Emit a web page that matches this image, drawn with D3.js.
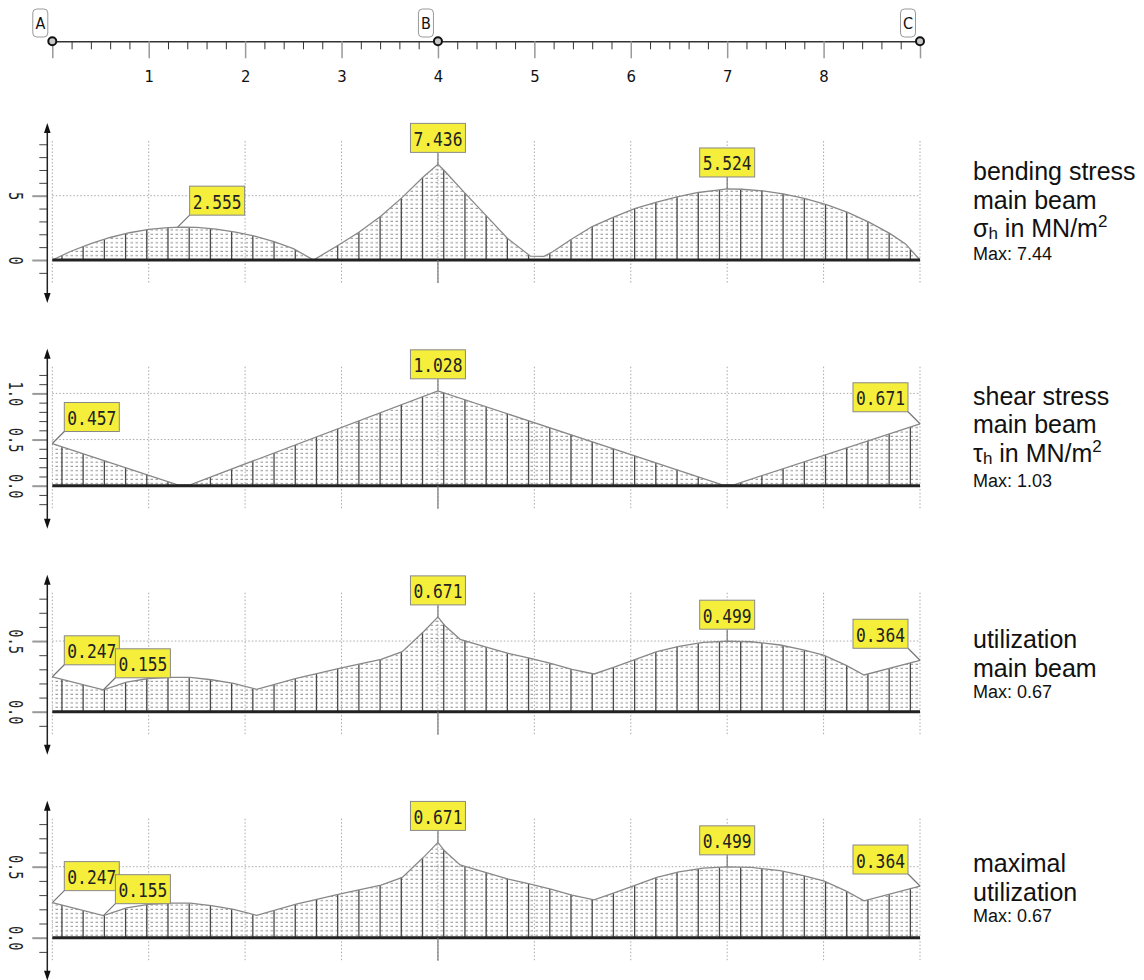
<!DOCTYPE html>
<html><head><meta charset="utf-8">
<script src="https://cdn.jsdelivr.net/npm/d3@7"></script>
<style>body{margin:0;background:#fff}svg{display:block}</style>
</head><body><svg id="c" width="1144" height="980"></svg>
<script>
// ---------------- data ----------------
const supportNames = ["A", "B", "C"];
const supportPos = [0, 4, 9];
const spanTickLabels = [1, 2, 3, 4, 5, 6, 7, 8];

const bendX = [0, 0.2, 0.4, 0.6, 0.8, 1.0, 1.2, 1.35, 1.5, 1.7, 1.9, 2.1, 2.3, 2.5, 2.71, 2.97, 3.18, 3.41, 3.63, 3.85, 4.0, 4.06, 4.28, 4.51, 4.72, 4.96, 5.1, 5.19, 5.38, 5.6, 5.81, 6.04, 6.27, 6.48, 6.7, 6.92, 7.0, 7.15, 7.37, 7.58, 7.8, 8.03, 8.25, 8.47, 8.69, 8.85, 9.0];
const bendV = [0, 0.7, 1.28, 1.75, 2.12, 2.38, 2.52, 2.555, 2.53, 2.4, 2.17, 1.85, 1.42, 0.88, 0, 1.17, 2.16, 3.42, 4.87, 6.47, 7.436, 7.0, 5.2, 3.37, 1.69, 0.3, 0.28, 0.64, 1.6, 2.6, 3.3, 4.0, 4.5, 4.9, 5.25, 5.45, 5.524, 5.5, 5.38, 5.15, 4.8, 4.3, 3.7, 2.95, 2.05, 1.25, 0];

const shearX = [0, 1.3, 1.43, 4.0, 6.95, 7.07, 9.0];
const shearV = [0.457, 0.01, 0.01, 1.028, 0.01, 0.01, 0.671];

const utilX = [0, 0.53, 0.77, 1.0, 1.22, 1.43, 1.65, 1.88, 2.12, 2.53, 3.0, 3.41, 3.63, 3.85, 4.0, 4.07, 4.23, 4.51, 4.73, 4.96, 5.17, 5.39, 5.62, 5.82, 6.05, 6.27, 6.5, 6.75, 7.0, 7.25, 7.55, 7.79, 8.0, 8.23, 8.42, 9.0];
const utilV = [0.247, 0.155, 0.21, 0.235, 0.243, 0.243, 0.226, 0.2, 0.158, 0.236, 0.31, 0.37, 0.425, 0.566, 0.671, 0.61, 0.512, 0.456, 0.413, 0.378, 0.342, 0.3, 0.267, 0.314, 0.371, 0.425, 0.463, 0.49, 0.499, 0.495, 0.472, 0.437, 0.40, 0.33, 0.26, 0.364];

const maxUtilX = [0, 0.53, 0.77, 1.0, 1.22, 1.43, 1.65, 1.88, 2.12, 2.53, 3.0, 3.41, 3.63, 3.85, 4.0, 4.07, 4.23, 4.51, 4.73, 4.96, 5.17, 5.39, 5.62, 5.82, 6.05, 6.27, 6.5, 6.75, 7.0, 7.25, 7.55, 7.79, 8.0, 8.23, 8.42, 9.0];
const maxUtilV = [0.247, 0.155, 0.21, 0.235, 0.243, 0.243, 0.226, 0.2, 0.158, 0.236, 0.31, 0.37, 0.425, 0.566, 0.671, 0.61, 0.512, 0.456, 0.413, 0.378, 0.342, 0.3, 0.267, 0.314, 0.371, 0.425, 0.463, 0.49, 0.499, 0.495, 0.472, 0.437, 0.40, 0.33, 0.26, 0.364];

const bendTicks = [0, 5];
const shearTicks = [0, 0.5, 1.0];
const utilTicks = [0, 0.5];
const maxUtilTicks = [0, 0.5];

const bendLabelX = [1.3, 4, 7];
const bendLabelV = [2.555, 7.436, 5.524];
const shearLabelX = [0, 4, 9];
const shearLabelV = [0.457, 1.028, 0.671];
const utilLabelX = [0, 0.53, 4, 7, 9];
const utilLabelV = [0.247, 0.155, 0.671, 0.499, 0.364];
const maxUtilLabelX = [0, 0.53, 4, 7, 9];
const maxUtilLabelV = [0.247, 0.155, 0.671, 0.499, 0.364];

const bendTitle = ["bending stress", "main beam"];
const shearTitle = ["shear stress", "main beam"];
const utilTitle = ["utilization", "main beam"];
const maxUtilTitle = ["maximal", "utilization"];
const bendMax = "Max: 7.44";
const shearMax = "Max: 1.03";
const utilMax = "Max: 0.67";
const maxUtilMax = "Max: 0.67";

// ---------------- layout / style ----------------
const svg = d3.select("#c");
const x = d3.scaleLinear().domain([0, 9]).range([52.3, 920]);
const SANS = "'Liberation Sans', Arial, Helvetica, sans-serif";
const NARROW = "'Liberation Sans Narrow', 'DejaVu Sans Condensed', 'Liberation Sans', sans-serif";
const MONO = "'DejaVu Sans Mono', 'Liberation Mono', monospace";
const YELLOW = "#f5ef3c";

const defs = svg.append("defs");
const pat = defs.append("pattern").attr("id", "dots").attr("patternUnits", "userSpaceOnUse")
  .attr("width", 5).attr("height", 4.3);
pat.append("rect").attr("x", 0.5).attr("y", 1.5).attr("width", 2.5).attr("height", 1).attr("fill", "#8f8f8f");

// ---- top span axis ----
const topY = 41.3;
const gTop = svg.append("g").attr("transform", `translate(0,${topY})`);
const minorVals = d3.range(0, 9.001, 0.2).filter(v => Math.abs(v - Math.round(v)) > 1e-6);
const gMinor = gTop.append("g").call(d3.axisBottom(x).tickValues(minorVals).tickSize(8).tickSizeOuter(0).tickFormat(""));
gMinor.select(".domain").attr("stroke", "#333").attr("stroke-width", 1.5);
gMinor.selectAll(".tick line").attr("stroke", "#333").attr("stroke-width", 1);
const gMajor = gTop.append("g").call(d3.axisBottom(x).tickValues(d3.range(0, 10)).tickSize(17)
  .tickFormat(d => spanTickLabels.includes(d) ? String(d) : ""));
gMajor.select(".domain").remove();
gMajor.selectAll(".tick line").attr("stroke", "#999").attr("stroke-width", 1.5);
gMajor.selectAll(".tick text").attr("y", 28.5).attr("dy", "0.71em")
  .attr("font-family", NARROW).attr("font-size", 16.5).attr("fill", "#111");

supportPos.forEach((p, i) => {
  const cx = x(p);
  svg.append("rect").attr("x", cx - 19.5).attr("y", 9).attr("width", 15).attr("height", 28).attr("rx", 4)
    .attr("fill", "#fff").attr("stroke", "#999").attr("stroke-width", 1);
  svg.append("text").attr("x", cx - 12).attr("y", 29).attr("text-anchor", "middle")
    .attr("font-family", NARROW).attr("font-size", 16).attr("fill", "#111").text(supportNames[i]);
  svg.append("circle").attr("cx", cx).attr("cy", topY).attr("r", 4)
    .attr("fill", "#c8c8c8").attr("stroke", "#111").attr("stroke-width", 2);
});

// ---- panels ----
const panels = [
  {X: bendX, V: bendV, ticks: bendTicks, LX: bendLabelX, LV: bendLabelV, dirs: ["ur", "up", "up"],
   title: bendTitle, unit: ["σ", "h"], max: bendMax, fmt: d3.format("d"),
   zeroY: 260, ppu: 12.86, lo: -1, hi: 9, step: 1, base: [180, 208.5, 237, 260]},
  {X: shearX, V: shearV, ticks: shearTicks, LX: shearLabelX, LV: shearLabelV, dirs: ["ur", "up", "ul"],
   title: shearTitle, unit: ["τ", "h"], max: shearMax, fmt: d3.format(".1f"),
   zeroY: 485.7, ppu: 92.3, lo: -0.2, hi: 1.2, step: 0.1, base: [405, 433.3, 461.7, 486.7]},
  {X: utilX, V: utilV, ticks: utilTicks, LX: utilLabelX, LV: utilLabelV, dirs: ["ur", "ur", "up", "up", "ul"],
   title: utilTitle, unit: null, max: utilMax, fmt: d3.format(".1f"),
   zeroY: 711.7, ppu: 141.3, lo: -0.1, hi: 0.8, step: 0.1, base: [648.3, 676.7, 698.3]},
  {X: maxUtilX, V: maxUtilV, ticks: maxUtilTicks, LX: maxUtilLabelX, LV: maxUtilLabelV, dirs: ["ur", "ur", "up", "up", "ul"],
   title: maxUtilTitle, unit: null, max: maxUtilMax, fmt: d3.format(".1f"),
   zeroY: 937.7, ppu: 142, lo: -0.1, hi: 0.8, step: 0.1, base: [872, 900.5, 922]},
];

function interp(X, V, t) {
  const i = Math.max(1, Math.min(X.length - 1, d3.bisectLeft(X, t)));
  const f = (t - X[i - 1]) / (X[i] - X[i - 1]);
  return V[i - 1] + f * (V[i] - V[i - 1]);
}

const hatchX = d3.range(0.1, 8.95, 0.22);

panels.forEach(P => {
  const y = d3.scaleLinear().domain([0, 1]).range([P.zeroY, P.zeroY - P.ppu]);
  const g = svg.append("g");
  const gTopY = P.zeroY - 119, gBotY = P.zeroY + 23;

  // grid
  g.selectAll(null).data(d3.range(0, 10)).enter().append("line")
    .attr("x1", d => x(d)).attr("x2", d => x(d)).attr("y1", gTopY).attr("y2", gBotY)
    .attr("stroke", "#aaa").attr("stroke-width", 1).attr("stroke-dasharray", "1.5 2");
  g.selectAll(null).data(P.ticks.filter(t => t !== 0)).enter().append("line")
    .attr("x1", x(0)).attr("x2", x(9)).attr("y1", d => y(d)).attr("y2", d => y(d))
    .attr("stroke", "#aaa").attr("stroke-width", 1).attr("stroke-dasharray", "1.5 2");

  const pts = P.X.map((d, i) => [d, P.V[i]]);
  g.append("path").datum(pts)
    .attr("d", d3.area().x(d => x(d[0])).y0(y(0)).y1(d => y(d[1])))
    .attr("fill", "url(#dots)");
  g.selectAll(null).data(hatchX).enter().append("line")
    .attr("x1", d => x(d)).attr("x2", d => x(d))
    .attr("y1", y(0)).attr("y2", d => y(Math.max(0, interp(P.X, P.V, d))))
    .attr("stroke", "#4a4a4a").attr("stroke-width", 1.3);
  g.append("path").datum(pts)
    .attr("d", d3.line().x(d => x(d[0])).y(d => y(d[1])))
    .attr("fill", "none").attr("stroke", "#888").attr("stroke-width", 1.3);
  g.append("line").attr("x1", x(0)).attr("x2", x(9)).attr("y1", y(0)).attr("y2", y(0))
    .attr("stroke", "#222").attr("stroke-width", 3);
  g.append("line").attr("x1", x(4)).attr("x2", x(4)).attr("y1", y(0)).attr("y2", gBotY)
    .attr("stroke", "#777").attr("stroke-width", 1.2);

  // y axis
  const ax = 47.3;
  const aTop = P.zeroY - 137, aBot = P.zeroY + 43;
  const minor = d3.range(P.lo, P.hi + P.step / 2, P.step).map(v => +v.toFixed(3))
    .filter(v => !P.ticks.some(t => Math.abs(t - v) < 1e-6));
  const gy = g.append("g").attr("transform", `translate(${ax},0)`);
  const gyMinor = gy.append("g").call(d3.axisLeft(y).tickValues(minor).tickSize(8).tickFormat(""));
  gyMinor.select(".domain").remove();
  gyMinor.selectAll(".tick line").attr("stroke", "#444").attr("stroke-width", 1);
  const gyMajor = gy.append("g").call(d3.axisLeft(y).tickValues(P.ticks).tickSize(15).tickFormat(P.fmt));
  gyMajor.select(".domain").remove();
  gyMajor.selectAll(".tick line").attr("stroke", "#999").attr("stroke-width", 2);
  gyMajor.selectAll(".tick text")
    .attr("x", -31.5).attr("y", 0).attr("dy", null)
    .attr("transform", "rotate(90,-31.5,0)")
    .attr("text-anchor", "middle").attr("dominant-baseline", "central")
    .attr("font-family", MONO).attr("font-size", 19).attr("fill", "#222")
    .each(function () {
      const n = this.textContent.length;
      d3.select(this).attr("textLength", n * 8.2).attr("lengthAdjust", "spacingAndGlyphs");
    });
  g.append("line").attr("x1", ax).attr("x2", ax).attr("y1", aTop + 4).attr("y2", aBot - 4)
    .attr("stroke", "#222").attr("stroke-width", 1.5);
  g.append("path").attr("d", `M${ax},${aTop}L${ax - 3.3},${aTop + 10}L${ax + 3.3},${aTop + 10}Z`).attr("fill", "#111");
  g.append("path").attr("d", `M${ax},${aBot}L${ax - 3.3},${aBot - 10}L${ax + 3.3},${aBot - 10}Z`).attr("fill", "#111");

  // value labels
  const bw = 55, bh = 29, gap = 12;
  P.LX.forEach((lx, i) => {
    const px = x(lx), py = y(P.LV[i]);
    const dir = P.dirs[i];
    let bx, by, cx2, cy2;
    if (dir === "up") { bx = px - bw / 2; by = py - gap - bh; cx2 = px; cy2 = py - gap; }
    else if (dir === "ur") { bx = px + 12; by = py - 12 - bh; cx2 = bx; cy2 = by + bh; }
    else { bx = px - 12 - bw; by = py - 12 - bh; cx2 = bx + bw; cy2 = by + bh; }
    const lg = g.append("g");
    lg.append("line").attr("x1", px).attr("y1", py).attr("x2", cx2).attr("y2", cy2)
      .attr("stroke", "#777").attr("stroke-width", 1.2);
    lg.append("rect").attr("x", bx).attr("y", by).attr("width", bw).attr("height", bh)
      .attr("fill", YELLOW).attr("stroke", "#888").attr("stroke-width", 1);
    lg.append("text").attr("x", bx + bw / 2).attr("y", by + bh / 2 + 1)
      .attr("text-anchor", "middle").attr("dominant-baseline", "central")
      .attr("font-family", MONO).attr("font-size", 19).attr("fill", "#222")
      .attr("textLength", 49).attr("lengthAdjust", "spacingAndGlyphs")
      .text(d3.format(".3f")(P.LV[i]));
  });

  // right titles
  const tx = 973;
  let li = 0;
  P.title.forEach(t => {
    g.append("text").attr("x", tx).attr("y", P.base[li++]).attr("font-family", SANS)
      .attr("font-size", 25).attr("fill", "#111").text(t);
  });
  if (P.unit) {
    const t = g.append("text").attr("x", tx).attr("y", P.base[li++]).attr("font-family", SANS)
      .attr("font-size", 25).attr("fill", "#111");
    t.append("tspan").text(P.unit[0]);
    t.append("tspan").attr("font-size", 17).attr("dy", 2).text(P.unit[1]);
    t.append("tspan").attr("font-size", 25).attr("dy", -2).text(" in MN/m");
    t.append("tspan").attr("font-size", 17).attr("dy", -10).text("2");
  }
  g.append("text").attr("x", tx).attr("y", P.base[li]).attr("font-family", SANS)
    .attr("font-size", 18).attr("fill", "#111").text(P.max);
});
</script>
</body></html>
